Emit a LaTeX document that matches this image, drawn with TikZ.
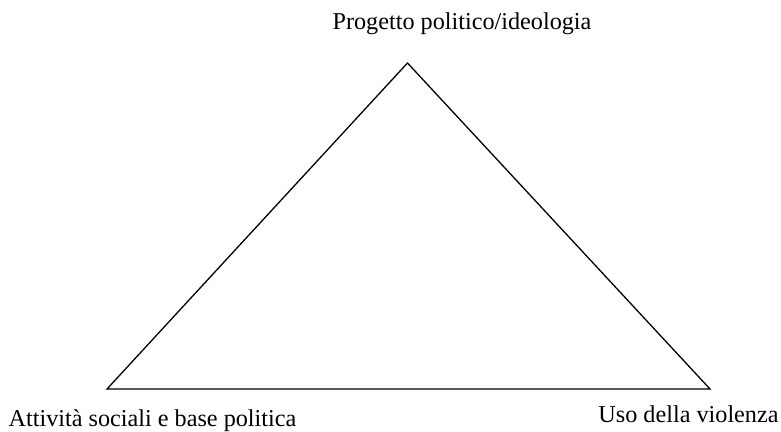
\documentclass[tikz,border=0pt]{standalone}
\usepackage{fontspec}
\setmainfont{Liberation Serif}
\begin{document}
\begin{tikzpicture}[x=1pt,y=-1pt,
  lbl/.style={font=\fontsize{24.2}{28}\selectfont, inner sep=0pt, anchor=base},
  edge/.style={draw=black, line width=1.3pt, line join=miter}]
\useasboundingbox (0,0) rectangle (781,431);
\coordinate (A) at (407.5,63);
\coordinate (B) at (107,389);
\coordinate (C) at (710,389);
\draw[edge] (A) -- (B) -- (C) -- cycle;
\node[lbl] (top) at (462,29) {Progetto politico/ideologia};
\node[lbl] (left) at (152.5,426) {Attività sociali e base politica};
\node[lbl] (right) at (688.5,422) {Uso della violenza};
\end{tikzpicture}
\end{document}
